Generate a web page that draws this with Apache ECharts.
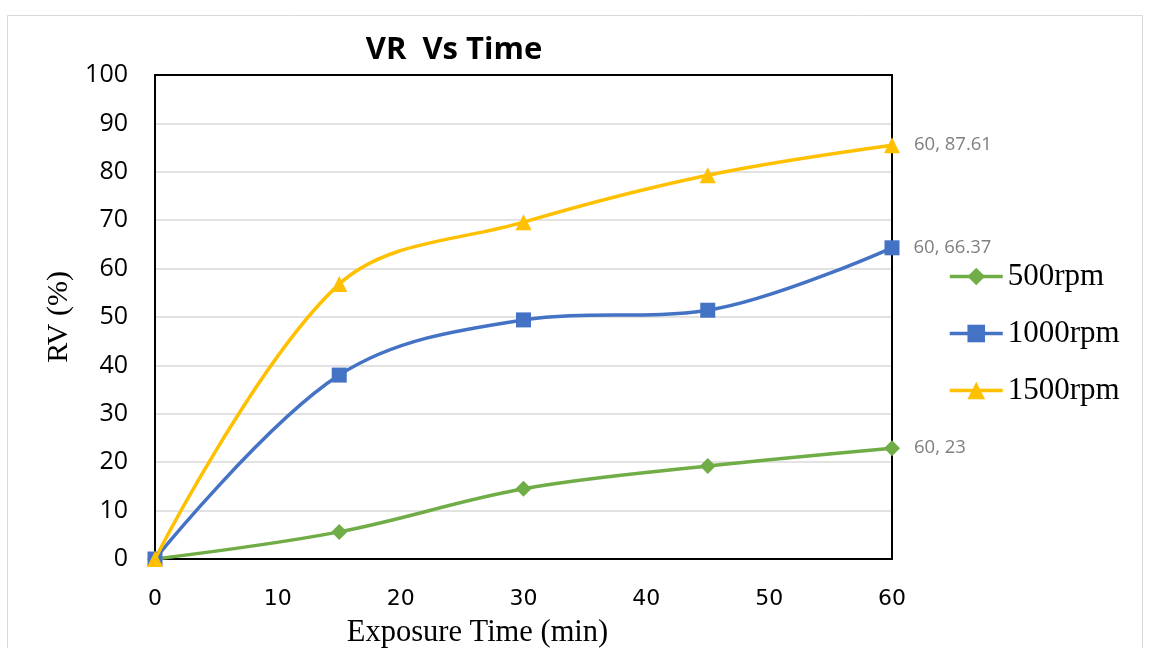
<!DOCTYPE html>
<html><head><meta charset="utf-8">
<script src="https://cdn.jsdelivr.net/npm/echarts@6/dist/echarts.min.js"></script>
<style>html,body{margin:0;padding:0;background:#fff}#c{width:1150px;height:648px}</style>
</head><body><div id="c"></div>
<script>
const times = [0, 15, 30, 45, 60];
const seriesNames = ['500rpm', '1000rpm', '1500rpm'];
const rpm500 = [0, 5.6, 14.5, 19.2, 22.9];
const rpm1000 = [0, 38.0, 49.4, 51.4, 64.3];
const rpm1500 = [0, 56.8, 69.6, 79.3, 85.5];
const endLabels = ['60, 23', '60, 66.37', '60, 87.61'];
const yTicks = [0, 10, 20, 30, 40, 50, 60, 70, 80, 90, 100];
const xTicks = [0, 10, 20, 30, 40, 50, 60];

const colors = ['#70ad47', '#4472c4', '#ffc000'];
const symbols = ['diamond', 'rect', 'triangle'];
const sizes = [16, 15, 16];
const values = [rpm500, rpm1000, rpm1500];

function build(i) {
  return values[i].map((v, k) => {
    const d = { value: [times[k], v] };
    if (k === values[i].length - 1) {
      d.label = {
        show: true, position: 'right', distance: 14,
        formatter: endLabels[i], color: '#7f7f7f',
        fontFamily: 'Open Sans', fontSize: 18.5
      };
    }
    return d;
  });
}

const frameAxis = {
  type: 'value', min: 0, max: 100, interval: 10,
  axisLine: { show: true, onZero: false, lineStyle: { color: '#000', width: 2 } },
  axisTick: { show: false }, axisLabel: { show: false }, splitLine: { show: false }
};

const chart = echarts.init(document.getElementById('c'));
chart.setOption({
  animation: false,
  title: {
    text: 'VR  Vs Time', left: 449, top: 30, textAlign: 'center',
    textStyle: { fontFamily: 'Open Sans', fontWeight: 'bold', fontSize: 31, color: '#000' }
  },
  graphic: [{
    type: 'rect', shape: { x: 7.5, y: 15.5, width: 1135, height: 650 },
    style: { fill: 'none', stroke: '#d9d9d9', lineWidth: 1 }, silent: true
  }],
  legend: {
    orient: 'vertical', left: 943, top: 256, itemGap: 26,
    itemWidth: 53, itemHeight: 22,
    lineStyle: { width: 3.5 },
    textStyle: { fontFamily: 'Liberation Serif', fontSize: 31, color: '#000' },
    data: seriesNames
  },
  grid: { left: 155, right: 258, top: 75, bottom: 89, outerBoundsMode: 'none', containLabel: false },
  xAxis: [{
    type: 'value', min: 0, max: 60, interval: 10,
    name: 'Exposure Time (min)', nameLocation: 'middle', nameGap: 58,
    nameTextStyle: { fontFamily: 'Liberation Serif', fontSize: 30.5, color: '#000', padding: [0, 92, 0, 0] },
    axisLine: { onZero: false, lineStyle: { color: '#000', width: 2 } },
    axisTick: { show: false },
    splitLine: { show: false },
    axisLabel: { margin: 29, fontFamily: 'DejaVu Sans', fontSize: 22, color: '#000',
      formatter: v => xTicks.includes(v) ? String(v) : '' }
  }, Object.assign({}, frameAxis, { position: 'top', max: 60 })],
  yAxis: [{
    type: 'value', min: 0, max: 100, interval: 10,
    name: 'RV (%)', nameLocation: 'middle', nameGap: 76,
    nameTextStyle: { fontFamily: 'Liberation Serif', fontSize: 30, color: '#000' },
    axisLine: { show: true, onZero: false, lineStyle: { color: '#000', width: 2 } },
    axisTick: { show: false },
    splitLine: { lineStyle: { color: '#d9d9d9', width: 1.5 } },
    axisLabel: { margin: 27, fontFamily: 'Open Sans', fontSize: 25, color: '#000',
      formatter: v => yTicks.includes(v) ? String(v) : '' }
  }, Object.assign({}, frameAxis, { position: 'right' })],
  series: [0, 1, 2].map(i => ({
    name: seriesNames[i], type: 'line', smooth: 0.35,
    data: build(i),
    symbol: symbols[i], symbolSize: sizes[i],
    lineStyle: { color: colors[i], width: 3.5 },
    itemStyle: { color: colors[i] },
    z: 2 + i
  }))
});
</script></body></html>
